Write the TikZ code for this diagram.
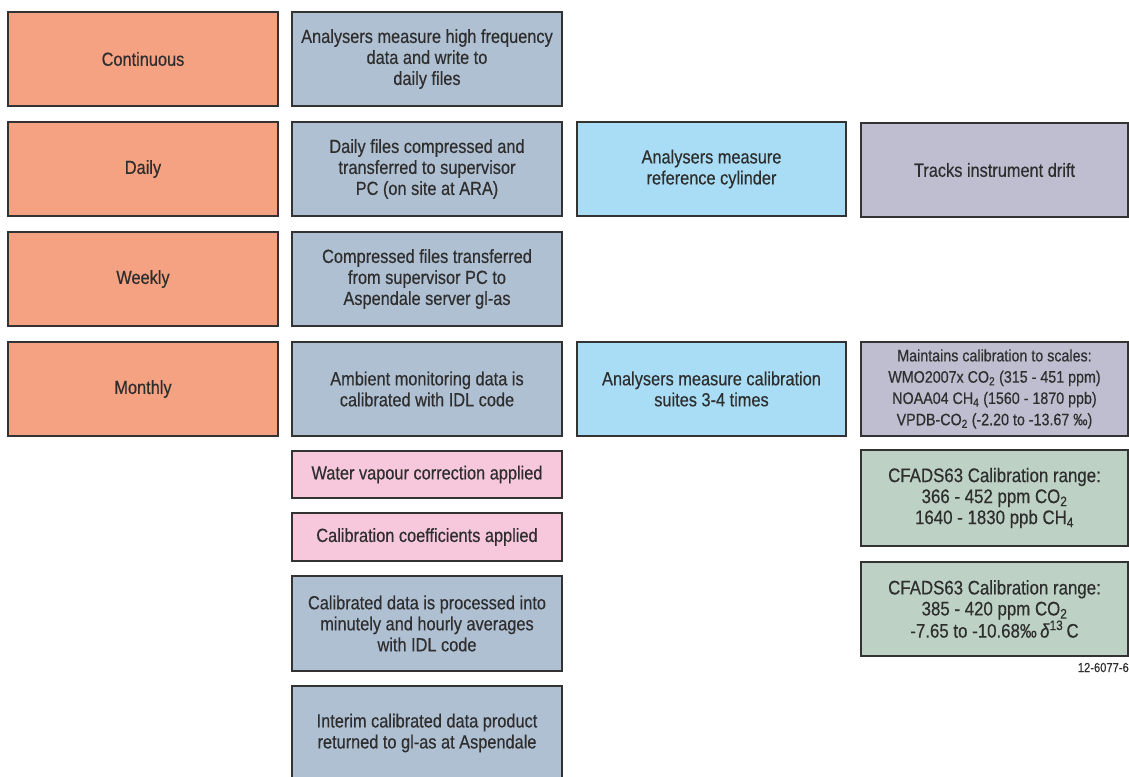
\documentclass[tikz,border=0pt]{standalone}
\usepackage{fontspec}
\setmainfont[FakeStretch=0.86,FakeBold=0.4]{Liberation Sans}
\definecolor{cOrange}{HTML}{F5A283}
\definecolor{cSteel}{HTML}{B0C0D3}
\definecolor{cSky}{HTML}{A9DDF5}
\definecolor{cLav}{HTML}{BEBED0}
\definecolor{cPink}{HTML}{F7C8DC}
\definecolor{cSage}{HTML}{BDD2C4}
\definecolor{cText}{HTML}{2E2E2E}
\tikzset{
  box/.style={draw=black!80, line width=1.3pt, rectangle, inner sep=0pt, align=center,
    minimum width=#1, text=cText, font=\fontsize{19}{21}\selectfont},
  box/.default=270pt,
  tall/.style={minimum height=94pt},
  short/.style={minimum height=47pt},
}
\begin{document}
\begin{tikzpicture}[x=1pt,y=-1pt]
\clip (0,0) rectangle (1129,776);
\fill[white] (0,0) rectangle (1129,776);
% column 1
\node[box, tall, fill=cOrange] (cont) at (143,59) {Continuous};
\node[box, tall, fill=cOrange] (daily) at (143,169) {Daily};
\node[box, tall, fill=cOrange] (weekly) at (143,279) {Weekly};
\node[box, tall, fill=cOrange] (monthly) at (143,389) {Monthly};
% column 2
\node[box, tall, fill=cSteel] (hf) at (427,59) {Analysers measure high frequency\\data and write to\\daily files};
\node[box, tall, fill=cSteel] (comp) at (427,169) {Daily files compressed and\\transferred to supervisor\\PC (on site at ARA)};
\node[box, tall, fill=cSteel] (trans) at (427,279) {Compressed files transferred\\from supervisor PC to\\Aspendale server gl-as};
\node[box, tall, fill=cSteel] (amb) at (427,389) {Ambient monitoring data is\\calibrated with IDL code};
\node[box, short, fill=cPink] (wv) at (427,474.5) {Water vapour correction applied};
\node[box, minimum height=48pt, fill=cPink] (coef) at (427,537) {Calibration coefficients applied};
\node[box, minimum height=95pt, fill=cSteel] (avg) at (427,623.5) {Calibrated data is processed into\\minutely and hourly averages\\with IDL code};
\node[box, tall, fill=cSteel] (interim) at (427,733) {Interim calibrated data product\\returned to gl-as at Aspendale};
% column 3
\node[box=269pt, tall, fill=cSky] (ref) at (711.5,169) {Analysers measure\\reference cylinder};
\node[box=269pt, tall, fill=cSky] (suite) at (711.5,389) {Analysers measure calibration\\suites 3-4 times};
% column 4
\node[box=267pt, tall, fill=cLav] (drift) at (994.5,170) {Tracks instrument drift};
\node[box=267pt, tall, fill=cLav, font=\fontsize{16.6}{21.3}\selectfont] (scales) at (994.5,389) {Maintains calibration to scales:\\WMO2007x CO\textsubscript{2} (315 - 451 ppm)\\NOAA04 CH\textsubscript{4} (1560 - 1870 ppb)\\VPDB-CO\textsubscript{2} (-2.20 to -13.67 ‰)};
\node[box=267pt, minimum height=96pt, fill=cSage, font=\fontsize{19.6}{21}\selectfont] (rng1) at (994.5,498) {CFADS63 Calibration range:\\366 - 452 ppm CO\textsubscript{2}\\1640 - 1830 ppb CH\textsubscript{4}};
\node[box=267pt, minimum height=94pt, fill=cSage, font=\fontsize{19.6}{21}\selectfont] (rng2) at (994.5,609) {CFADS63 Calibration range:\\385 - 420 ppm CO\textsubscript{2}\\-7.65 to -10.68‰\,\textit{δ}\textsuperscript{13}\,C};
\node[anchor=base east, inner sep=0pt, text=cText, font=\fontsize{13}{15}\selectfont] (code) at (1129,672) {12-6077-6};
\end{tikzpicture}
\end{document}
